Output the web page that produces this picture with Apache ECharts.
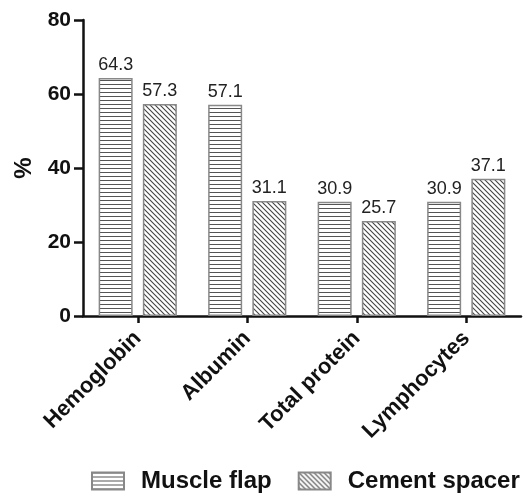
<!DOCTYPE html>
<html>
<head>
<meta charset="utf-8">
<script src="https://cdn.jsdelivr.net/npm/echarts@6/dist/echarts.min.js"></script>
<style>
  html, body { margin: 0; padding: 0; background: #fff; }
  #chart { width: 523px; height: 495px; }
</style>
</head>
<body>
<div id="chart"></div>
<script>
const categories = ['Hemoglobin', 'Albumin', 'Total protein', 'Lymphocytes'];
const muscleFlap = [64.3, 57.1, 30.9, 30.9];
const cementSpacer = [57.3, 31.1, 25.7, 37.1];
const yTicks = [0, 20, 40, 60, 80];

// hatch fills
function hLines() {
    const c = document.createElement('canvas');
    c.width = 8; c.height = 4;
    const ctx = c.getContext('2d');
    ctx.fillStyle = '#fff';
    ctx.fillRect(0, 0, 8, 4);
    ctx.fillStyle = '#555';
    ctx.fillRect(0, 0, 8, 1);
    return c;
}
function diagLines() {
    const s = 5;
    const c = document.createElement('canvas');
    c.width = s; c.height = s;
    const ctx = c.getContext('2d');
    ctx.fillStyle = '#fff';
    ctx.fillRect(0, 0, s, s);
    ctx.strokeStyle = '#444';
    ctx.lineWidth = 1.1;
    ctx.beginPath();
    ctx.moveTo(-1, -1); ctx.lineTo(s + 1, s + 1);
    ctx.moveTo(-1, s - 1); ctx.lineTo(1, s + 1);
    ctx.moveTo(s - 1, -1); ctx.lineTo(s + 1, 1);
    ctx.stroke();
    return c;
}

const font = 'Liberation Sans, Arial, Helvetica, sans-serif';
const labelStyle = { show: true, position: 'top', distance: 4, fontSize: 18, color: '#222', fontFamily: font };

const myChart = echarts.init(document.getElementById('chart'));
myChart.setOption({
    animation: false,
    grid: { left: 83, right: 2, top: 20, bottom: 179 },
    legend: {
        bottom: 2,
        left: 91,
        padding: 0,
        icon: 'rect',
        itemWidth: 32,
        itemHeight: 17,
        itemGap: 26,
        textStyle: { fontSize: 24, fontWeight: 'bold', color: '#111', fontFamily: font, padding: [0, 0, 0, 12] },
        data: ['Muscle flap', 'Cement spacer']
    },
    xAxis: {
        type: 'category',
        data: categories,
        axisLine: { lineStyle: { color: '#111', width: 2.5 } },
        axisTick: { show: true, alignWithLabel: true, length: 7, lineStyle: { width: 2.5, color: '#111' } },
        axisLabel: { rotate: 45, margin: 19, fontSize: 22, fontWeight: 'bold', color: '#111', fontFamily: font }
    },
    yAxis: {
        type: 'value',
        min: yTicks[0],
        max: yTicks[yTicks.length - 1],
        interval: 20,
        name: '%',
        nameLocation: 'middle',
        nameGap: 46,
        nameRotate: 90,
        nameTextStyle: { fontSize: 24, fontWeight: 'bold', color: '#111', fontFamily: font },
        axisLine: { show: true, lineStyle: { color: '#111', width: 2.5 } },
        axisTick: { show: true, length: 9, lineStyle: { width: 2.5, color: '#111' } },
        axisLabel: { fontSize: 21, fontWeight: 'bold', color: '#111', margin: 12, fontFamily: font },
        splitLine: { show: false }
    },
    series: [
        {
            name: 'Muscle flap',
            type: 'bar',
            barWidth: 34,
            barGap: '30%',
            data: muscleFlap,
            itemStyle: { color: { image: hLines(), repeat: 'repeat' }, borderColor: '#888', borderWidth: 1.5 },
            label: labelStyle
        },
        {
            name: 'Cement spacer',
            type: 'bar',
            barWidth: 34,
            data: cementSpacer,
            itemStyle: { color: { image: diagLines(), repeat: 'repeat' }, borderColor: '#888', borderWidth: 1.5 },
            label: labelStyle
        }
    ]
});
</script>
</body>
</html>
